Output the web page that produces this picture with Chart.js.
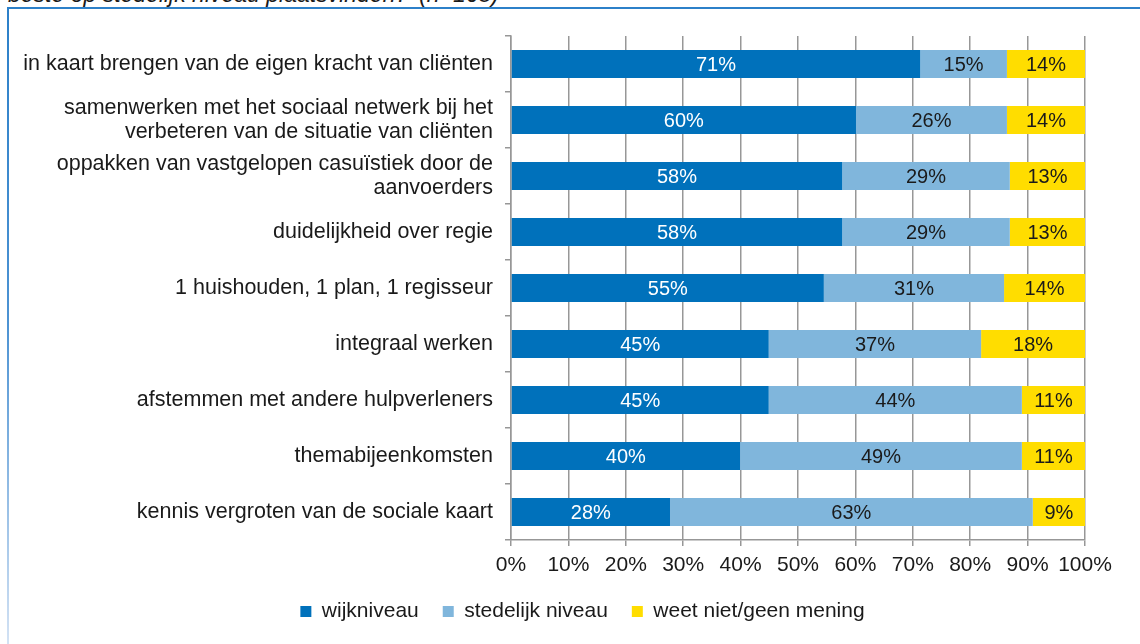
<!DOCTYPE html>
<html>
<head>
<meta charset="utf-8">
<script src="https://cdn.jsdelivr.net/npm/chart.js@4.4.1/dist/chart.umd.min.js"></script>
<style>
  html, body { margin: 0; padding: 0; background: #ffffff; }
  #wrap { position: relative; width: 1140px; height: 644px; overflow: hidden; background: #fff; }
  #cut { position: absolute; left: 8px; top: -17px; line-height: 23px; font-family: "Liberation Sans", Arial, sans-serif; font-style: italic; font-size: 23px; color: #1a1a1a; white-space: nowrap; }
  #topline { position: absolute; left: 7px; top: 7px; width: 1133px; height: 2px; background: #2C80C9; }
  #leftline { position: absolute; left: 7px; top: 7px; width: 2px; height: 637px; background: linear-gradient(#2C80C9 0%, #4D93D3 50%, #D3E2F4 100%); }
  #c { position: absolute; left: 0; top: 0; }
</style>
</head>
<body>
<div id="wrap">
  <div id="cut">beste op stedelijk niveau plaatsvinden?' (n=168)</div>
  <div id="topline"></div>
  <div id="leftline"></div>
  <canvas id="c" width="1140" height="644"></canvas>
</div>
<script>
const categories = [
  "in kaart brengen van de eigen kracht van cliënten",
  ["samenwerken met het sociaal netwerk bij het", "verbeteren van de situatie van cliënten"],
  ["oppakken van vastgelopen casuïstiek door de", "aanvoerders"],
  "duidelijkheid over regie",
  "1 huishouden, 1 plan, 1 regisseur",
  "integraal werken",
  "afstemmen met andere hulpverleners",
  "themabijeenkomsten",
  "kennis vergroten van de sociale kaart"
];
const seriesNames = ["wijkniveau", "stedelijk niveau", "weet niet/geen mening"];
const wijkniveau     = [71.3, 60.1, 57.7, 57.7, 54.5, 44.9, 44.9, 39.9, 27.7];
const stedelijk      = [15.1, 26.3, 29.2, 29.2, 31.4, 37.0, 44.1, 49.1, 63.2];
const weetNiet       = [13.6, 13.6, 13.1, 13.1, 14.1, 18.1, 11.0, 11.0, 9.1];
const xTicks = [0, 10, 20, 30, 40, 50, 60, 70, 80, 90, 100];

const FONT = "'Liberation Sans', Arial, sans-serif";
const colors = ["#0071BB", "#80B6DC", "#FFDD00"];
const labelColors = ["#ffffff", "#1a1a1a", "#1a1a1a"];

const barLabels = {
  id: 'barLabels',
  afterDatasetsDraw(chart) {
    const ctx = chart.ctx;
    ctx.save();
    ctx.font = "20px " + FONT;
    ctx.textAlign = 'center';
    ctx.textBaseline = 'middle';
    chart.data.datasets.forEach((ds, di) => {
      const meta = chart.getDatasetMeta(di);
      meta.data.forEach((el, i) => {
        const v = ds.data[i];
        ctx.fillStyle = labelColors[di];
        ctx.fillText(Math.round(v) + '%', (el.x + el.base) / 2, el.y + 1);
      });
    });
    ctx.restore();
  }
};

// shift the legend so it is centred like the original
const legendShift = {
  id: 'legendShift',
  afterLayout(chart) {
    if (chart.legend) { chart.legend.left += 40; chart.legend.right += 40; }
  }
};

Chart.defaults.font.family = FONT;
Chart.defaults.color = "#1a1a1a";

new Chart(document.getElementById('c'), {
  type: 'bar',
  data: {
    labels: categories,
    datasets: [
      { label: seriesNames[0], data: wijkniveau, backgroundColor: colors[0] },
      { label: seriesNames[1], data: stedelijk, backgroundColor: colors[1] },
      { label: seriesNames[2], data: weetNiet, backgroundColor: colors[2] }
    ]
  },
  options: {
    indexAxis: 'y',
    responsive: false,
    animation: false,
    devicePixelRatio: 1,
    layout: { padding: { top: 36, right: 55, left: 0, bottom: 12 } },
    datasets: { bar: { barPercentage: 0.5, categoryPercentage: 1.0 } },
    scales: {
      x: {
        stacked: true,
        min: 0, max: 100,
        afterBuildTicks(scale) { scale.ticks = xTicks.map(v => ({ value: v })); },
        afterFit(scale) { scale.height = 37; },
        ticks: { callback: v => v + '%', font: { size: 21 }, color: '#1a1a1a', padding: 7, maxRotation: 0 },
        grid: { color: '#979797', lineWidth: 1.5, tickLength: 6, drawTicks: true },
        border: { color: '#979797', width: 1.5 }
      },
      y: {
        stacked: true,
        afterFit(scale) { scale.width = 511; },
        ticks: { font: { size: 21.5, lineHeight: 1.08 }, color: '#1a1a1a', padding: 12 },
        grid: { drawOnChartArea: false, color: '#979797', lineWidth: 1.5, tickLength: 6, offset: true },
        border: { color: '#979797', width: 1.5 }
      }
    },
    plugins: {
      legend: {
        position: 'bottom',
        labels: { boxWidth: 11, boxHeight: 11, padding: 24, font: { size: 21 }, color: '#1a1a1a' }
      },
      tooltip: { enabled: false }
    }
  },
  plugins: [barLabels, legendShift]
});
</script>
</body>
</html>
